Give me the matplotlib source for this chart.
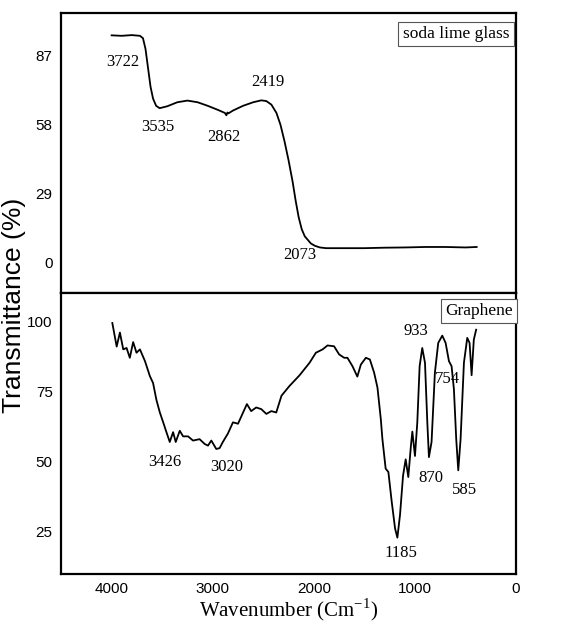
import matplotlib.pyplot as plt

# soda lime glass spectrum (wavenumber, transmittance)
glass_wn = [4000, 3900, 3800, 3720, 3690, 3665, 3640, 3615, 3590, 3560, 3525,
            3450, 3350, 3250, 3150, 3050, 2950, 2880, 2865, 2855, 2845, 2800,
            2700, 2600, 2520, 2470, 2420, 2370, 2330, 2290, 2250, 2210, 2180,
            2150, 2120, 2090, 2060, 2030, 1990, 1940, 1880, 1700, 1500, 1300,
            1100, 900, 700, 500, 390]
glass_t = [95.7, 95.5, 95.8, 95.5, 94.5, 90, 82, 74, 69, 66, 65,
           65.8, 67.5, 68.2, 67.5, 66, 64.3, 63, 62, 63.2, 62.8, 64,
           66, 67.5, 68.3, 68, 66.5, 63, 58, 51, 43, 34, 26,
           19, 14, 11, 9.5, 8, 7, 6.3, 6, 6, 6, 6.2,
           6.3, 6.5, 6.5, 6.3, 6.5]

# graphene spectrum
graph_wn = [3993, 3950, 3918, 3885, 3852, 3820, 3787, 3754, 3720, 3670, 3622,
            3590, 3557, 3523, 3490, 3458, 3425, 3392, 3366, 3326, 3293, 3244,
            3195, 3130, 3080, 3047, 3014, 2965, 2932, 2900, 2850, 2800, 2750,
            2700, 2662, 2620, 2570, 2520, 2470, 2420, 2372, 2320, 2240, 2143,
            2043, 1980, 1913, 1865, 1800, 1750, 1700, 1668, 1618, 1570, 1535,
            1486, 1446, 1404, 1371, 1338, 1322, 1290, 1263, 1230, 1197, 1174,
            1148, 1118, 1092, 1066, 1040, 1026, 1000, 977, 954, 928, 901,
            878, 862, 836, 803, 770, 730, 697, 664, 638, 615, 592,
            572, 549, 516, 483, 460, 440, 418, 395]
graph_t = [99.4, 91, 96, 90, 90.5, 87, 92.6, 88.8, 90, 85.8, 80.5,
           78, 72, 67.5, 64, 60.5, 57, 60.5, 57, 61, 59, 59,
           57.5, 58, 56.3, 55.7, 57.5, 54.5, 54.8, 57, 60, 64, 63.5,
           67.5, 70.5, 68, 69.3, 68.7, 67, 68, 67.5, 73.5, 77, 80.7,
           85.2, 88.8, 90, 91.4, 91.1, 88.2, 87, 87, 84, 80.3, 84.6,
           87, 86.4, 81.7, 76.4, 65.2, 58, 47.5, 46.3, 35.7, 26.2, 22.9,
           31, 45, 50.8, 44.5, 55.7, 60.7, 52, 64, 84, 90.5, 85.2,
           64, 51.6, 57, 81.7, 92.3, 94.9, 92.3, 85.8, 84, 75.8, 58,
           46.9, 58, 85.2, 94.1, 92.3, 80.8, 93.5, 97]

glass_peaks = ["3722", "3535", "2862", "2419", "2073"]
glass_peak_pos = [(3890, 84.5), (3545, 57), (2890, 53), (2450, 76), (2140, 3)]
graph_peaks = ["3426", "3020", "1185", "933", "870", "754", "585"]
graph_peak_pos = [(3474, 50), (2866, 48), (1140, 17.5), (993, 96.5),
                  (838, 44), (680, 79.6), (510, 40)]

x_ticks = [4000, 3000, 2000, 1000, 0]
glass_ticks = [0, 29, 58, 87]
graph_ticks = [25, 50, 75, 100]

serif = "Liberation Serif"
sans = "Liberation Sans"

fig = plt.figure(figsize=(5.76, 6.32), dpi=100)
ax1 = fig.add_axes([0.106, 0.536, 0.790, 0.443])
ax2 = fig.add_axes([0.106, 0.092, 0.790, 0.444])

ax1.plot(glass_wn, glass_t, color="black", lw=1.3)
ax2.plot(graph_wn, graph_t, color="black", lw=1.3)

for ax in (ax1, ax2):
    ax.set_xlim(4500, 0)
    ax.set_xticks(x_ticks)
    for s in ax.spines.values():
        s.set_linewidth(1.6)
    ax.tick_params(length=0, pad=6, labelsize=11)

ax1.set_ylim(-13, 105)
ax1.set_yticks(glass_ticks)
ax1.tick_params(labelbottom=False)
ax2.set_ylim(10, 110)
ax2.set_yticks(graph_ticks)
for lab in (ax2.get_xticklabels() + ax1.get_yticklabels()
            + ax2.get_yticklabels()):
    lab.set_family(sans)

for txt, (x, y) in zip(glass_peaks, glass_peak_pos):
    ax1.text(x, y, txt, ha="center", va="center", fontsize=12, family=serif)
for txt, (x, y) in zip(graph_peaks, graph_peak_pos):
    ax2.text(x, y, txt, ha="center", va="center", fontsize=12, family=serif)

box = dict(boxstyle="square,pad=0.25", fc="white", ec="#555555", lw=0.8)
ax1.text(0.985, 0.955, "soda lime glass", transform=ax1.transAxes, ha="right",
         va="top", fontsize=12.5, family=serif, bbox=box)
ax2.text(0.993, 0.965, "Graphene", transform=ax2.transAxes, ha="right",
         va="top", fontsize=12.5, family=serif, bbox=box, zorder=5)

ax2.set_xlabel("Wavenumber (Cm$^{\\mathregular{-1}}$)", family=serif,
               fontsize=15, labelpad=0)
fig.text(0.025, 0.517, "Transmittance (%)", rotation=90, ha="center",
         va="center", fontsize=19, family=sans)

fig.savefig("out.png", dpi=100)
